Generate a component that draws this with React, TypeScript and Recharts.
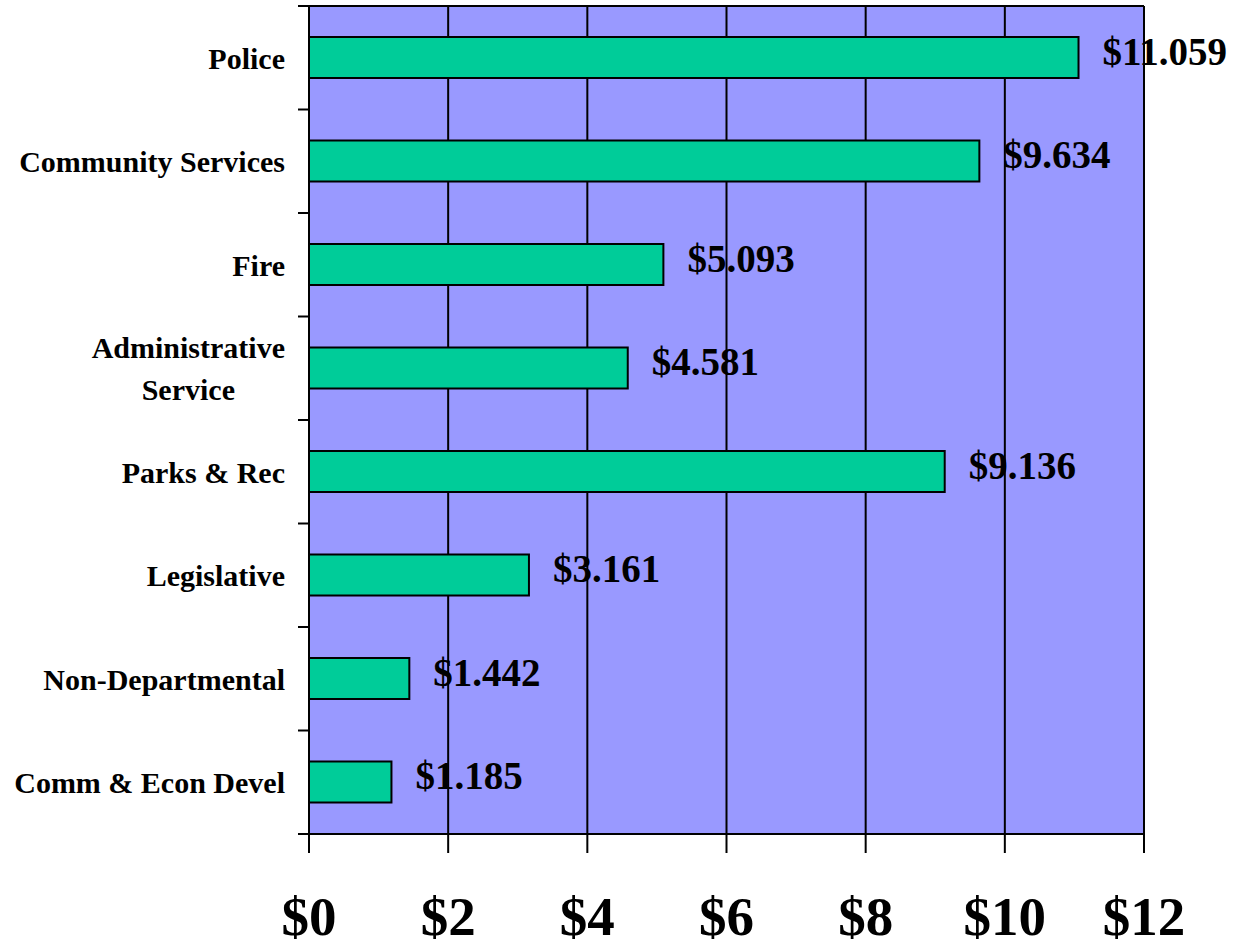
import React from "react";
import {
	BarChart,
	Bar,
	XAxis,
	YAxis,
	CartesianGrid,
	ReferenceLine,
	LabelList,
} from "recharts";

const departments = [
	"Police",
	"Community Services",
	"Fire",
	"Administrative Service",
	"Parks & Rec",
	"Legislative",
	"Non-Departmental",
	"Comm & Econ Devel",
];
const amounts = [11.059, 9.634, 5.093, 4.581, 9.136, 3.161, 1.442, 1.185];
const xTicks = [0, 2, 4, 6, 8, 10, 12];

const data = departments.map((name, i) => ({ name, value: amounts[i] }));

const FONT = '"Times New Roman", "Liberation Serif", serif';
const W = 1234;
const H = 947;
const M = { top: 6, right: 90, left: 0, bottom: 0 };
const X_AXIS_H = 113;
const Y_AXIS_W = 309;
const CAT_MARGIN = 24;
const halfBand = (H - M.top - M.bottom - X_AXIS_H) / departments.length / 2;

// two-line labels get centred on their widest line, like the original
const wrapLines: Record<string, string[]> = {
	"Administrative Service": ["Administrative", "Service"],
};

const measure = (s: string, size: number) => {
	const c = document.createElement("canvas").getContext("2d");
	if (!c) return s.length * size * 0.5;
	c.font = `bold ${size}px ${FONT}`;
	return c.measureText(s).width;
};

const CatTick = (props: any) => {
	const { x, y, payload, index } = props;
	const ax = x + CAT_MARGIN;
	const lines = wrapLines[payload.value] || [payload.value];
	const w = Math.max(...lines.map((l) => measure(l, 30)));
	// tick marks sit between categories, not at their centres
	const marks = [y - halfBand];
	if (index === departments.length - 1) marks.push(y + halfBand);
	return (
		<g>
			{marks.map((my, k) => (
				<line key={k} x1={ax - 11} x2={ax + 1} y1={my} y2={my} stroke="#000" strokeWidth={2} />
			))}
			{lines.length === 1 ? (
				<text x={x} y={y} dy={11} textAnchor="end" fontFamily={FONT} fontWeight="bold" fontSize={30} fill="#000">
					{payload.value}
				</text>
			) : (
				<text x={x - w / 2} y={y} textAnchor="middle" fontFamily={FONT} fontWeight="bold" fontSize={30} fill="#000">
					{lines.map((l, i) => (
						<tspan key={l} x={x - w / 2} dy={i === 0 ? -10 : 42}>
							{l}
						</tspan>
					))}
				</text>
			)}
		</g>
	);
};

const XTick = (props: any) => {
	const { x, y, payload } = props;
	return (
		<text x={x} y={y} dy={82} textAnchor="middle" fontFamily={FONT} fontWeight="bold" fontSize={55} fill="#000">
			${payload.value}
		</text>
	);
};

const ValueLabel = (props: any) => {
	const { x, y, width, height, value } = props;
	return (
		<text
			x={x + width + 24}
			y={y + height / 2}
			dy={7}
			fontFamily={FONT}
			fontWeight="bold"
			fontSize={39}
			fill="#000"
		>
			${Number(value).toFixed(3)}
		</text>
	);
};

const line = { stroke: "#000", strokeWidth: 2 };

export default function App() {
	return (
		<div style={{ position: "absolute", left: 0, top: 0 }}>
			<BarChart width={W} height={H} data={data} layout="vertical" margin={M}>
				<CartesianGrid
					horizontal={false}
					stroke="#000"
					strokeWidth={2}
					fill="#9999FF"
					fillOpacity={1}
				/>
				<XAxis
					type="number"
					domain={[0, 12]}
					ticks={xTicks}
					height={X_AXIS_H}
					tickSize={19}
					tickMargin={0}
					tick={XTick}
					axisLine={line}
					tickLine={line}
					interval={0}
				/>
				<YAxis
					type="category"
					dataKey="name"
					width={Y_AXIS_W}
					tickSize={0}
					tickMargin={CAT_MARGIN}
					tick={CatTick}
					axisLine={line}
					tickLine={false}
					interval={0}
				/>
				{/* top frame of the plot area */}
				<ReferenceLine y={departments[0]} position="start" stroke="#000" strokeWidth={2} ifOverflow="visible" />
				<Bar
					dataKey="value"
					fill="#00CC99"
					stroke="#000"
					strokeWidth={2}
					barSize={41}
					isAnimationActive={false}
				>
					<LabelList dataKey="value" content={ValueLabel} />
				</Bar>
			</BarChart>
		</div>
	);
}
